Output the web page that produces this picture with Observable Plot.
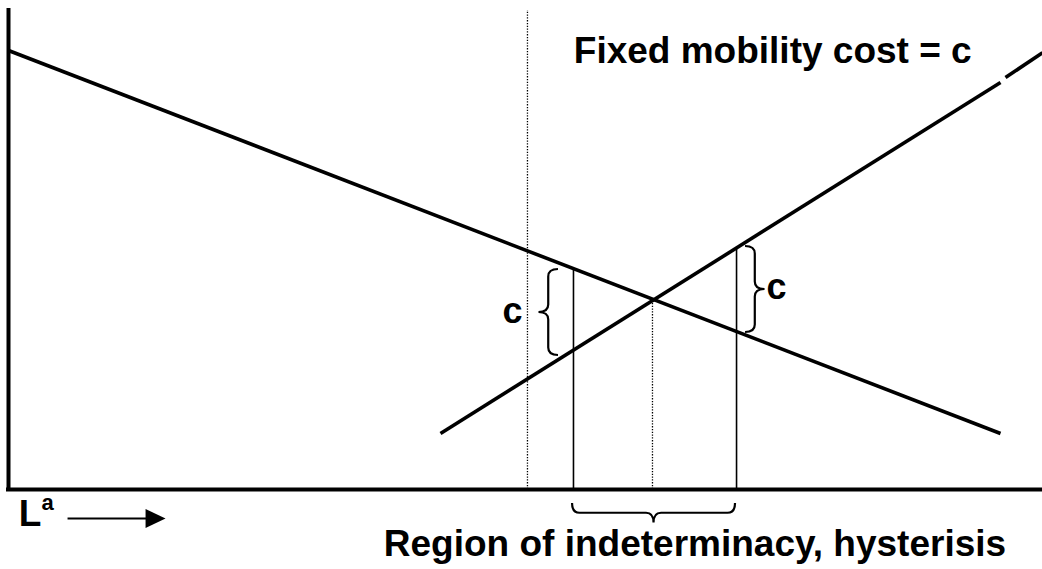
<!DOCTYPE html>
<html><head><meta charset="utf-8">
<script src="https://cdn.jsdelivr.net/npm/d3@7"></script>
<script src="https://cdn.jsdelivr.net/npm/@observablehq/plot@0.6"></script>
<style>html,body{margin:0;padding:0;background:#fff;overflow:hidden}</style>
</head><body><div id="chart"></div>
<script>
// Conceptual diagram: values in abstract units (x: 0–100 labour, y: 0–100 wage)
const lineFalling = [{x: 0, y: 91.65}, {x: 95.94, y: 11.69}];
const lineRising = [{x: 41.78, y: 11.69}, {x: 95.94, y: 84.97}];
const lineRisingTail = [{x: 96.42, y: 86.0}, {x: 100, y: 91.2}];

const dottedX = [50.19, 62.28];
const dottedTop = [100, 39.46];
const solidX = [54.64, 70.41];
const solidTop = [46.14, 50.52];

const braceX1 = [53.19, 71.28, 54.55];
const braceY1 = [45.93, 50.73, -2.92];
const braceX2 = [53.19, 71.28, 70.31];
const braceY2 = [27.97, 32.78, -2.92];
const braceSide = ["left", "right", "down"];

const titleText = "Fixed mobility cost = c";
const titlePos = {x: 54.67, y: 88.94};
const regionText = "Region of indeterminacy, hysterisis";
const regionPos = {x: 66.39, y: -13.78};
const cLeft = {text: "c", x: 48.74, y: 34.86};
const cRight = {text: "c", x: 73.31, y: 39.87};
const axisMain = {text: "L", x: 1.0, y: -7.72};
const axisSup = {text: "a", x: 3.2, y: -4.18};
const arrow = [{x1: 5.71, x2: 13.54, hx: 14.22, y: -6.05}];

const rows = (xs, ys) => xs.map((x, i) => ({x, y: ys[i]}));
const dotted = rows(dottedX, dottedTop);
const solid = rows(solidX, solidTop);
const braces = braceX1.map((x1, i) => ({x1, y1: braceY1[i], x2: braceX2[i], y2: braceY2[i], side: braceSide[i]}));

const normals = {left: [-1, 0], right: [1, 0], down: [0, 1], up: [0, -1]};
function bracePath(ax, ay, bx, by, n, w, r) {
  const L = Math.hypot(bx - ax, by - ay), tx = (bx - ax) / L, ty = (by - ay) / L;
  const h = w * 0.5, mx = (ax + bx) / 2, my = (ay + by) / 2;
  const P = (x, y) => `${x.toFixed(2)},${y.toFixed(2)}`;
  return `M${P(ax, ay)}` +
    `Q${P(ax + n[0] * h, ay + n[1] * h)} ${P(ax + n[0] * h + tx * r, ay + n[1] * h + ty * r)}` +
    `L${P(mx + n[0] * h - tx * r, my + n[1] * h - ty * r)}` +
    `Q${P(mx + n[0] * h, my + n[1] * h)} ${P(mx + n[0] * w, my + n[1] * w)}` +
    `Q${P(mx + n[0] * h, my + n[1] * h)} ${P(mx + n[0] * h + tx * r, my + n[1] * h + ty * r)}` +
    `L${P(bx + n[0] * h - tx * r, by + n[1] * h - ty * r)}` +
    `Q${P(bx + n[0] * h, by + n[1] * h)} ${P(bx, by)}`;
}
const braceMark = (index, scales) => {
  const g = d3.create("svg:g").attr("fill", "none").attr("stroke", "#000").attr("stroke-width", 2.2);
  for (const d of braces) {
    g.append("path").attr("d", bracePath(scales.x(d.x1), scales.y(d.y1), scales.x(d.x2), scales.y(d.y2), normals[d.side], 19.5, 7.5));
  }
  return g.node();
};

const rightTriangle = {
  draw(ctx, size) {
    const r = Math.sqrt(size / Math.PI);
    ctx.moveTo(r, 0); ctx.lineTo(-r, -0.95 * r); ctx.lineTo(-r, 0.95 * r); ctx.closePath();
  }
};

const bold = {lineAnchor: "bottom", fontWeight: "bold", fill: "#000"};
const textMark = (d, anchor, size) =>
  Plot.text([d], {x: "x", y: "y", text: "text", textAnchor: anchor, fontSize: size, ...bold});

const font = "'Liberation Sans', Arial, sans-serif";
const chart = Plot.plot({
  width: 1042, height: 569,
  marginLeft: 8, marginRight: 0, marginTop: 10, marginBottom: 80,
  x: {domain: [0, 100], axis: null},
  y: {domain: [0, 100], axis: null},
  style: {fontFamily: font, background: "#fff", color: "#000"},
  marks: [
    Plot.ruleX(dotted, {x: "x", y1: 0, y2: "y", stroke: "#000", strokeWidth: 1.3, strokeDasharray: "1.3,1.5"}),
    Plot.ruleX(solid, {x: "x", y1: 0, y2: "y", stroke: "#000", strokeWidth: 1.6}),
    Plot.ruleX([0], {y1: 0, y2: 100, stroke: "#000", strokeWidth: 4, strokeLinecap: "square"}),
    Plot.ruleY([0], {x1: 0, x2: 100, stroke: "#000", strokeWidth: 4, strokeLinecap: "square"}),
    Plot.line(lineFalling, {x: "x", y: "y", stroke: "#000", strokeWidth: 3.6, strokeLinecap: "butt"}),
    Plot.line(lineRising, {x: "x", y: "y", stroke: "#000", strokeWidth: 3.6, strokeLinecap: "butt"}),
    Plot.line(lineRisingTail, {x: "x", y: "y", stroke: "#000", strokeWidth: 3.6, strokeLinecap: "butt"}),
    braceMark,
    textMark({text: titleText, ...titlePos}, "start", 37),
    textMark({text: regionText, ...regionPos}, "middle", 37),
    textMark(cLeft, "middle", 36),
    textMark(cRight, "start", 36),
    textMark(axisMain, "start", 37),
    textMark(axisSup, "start", 22),
    Plot.link(arrow, {x1: "x1", x2: "x2", y1: "y", y2: "y", stroke: "#000", strokeWidth: 2.2}),
    Plot.dot(arrow, {x: "hx", y: "y", symbol: rightTriangle, r: 10, fill: "#000", stroke: "none"})
  ]
});
document.getElementById("chart").append(chart);
</script>
</body></html>
